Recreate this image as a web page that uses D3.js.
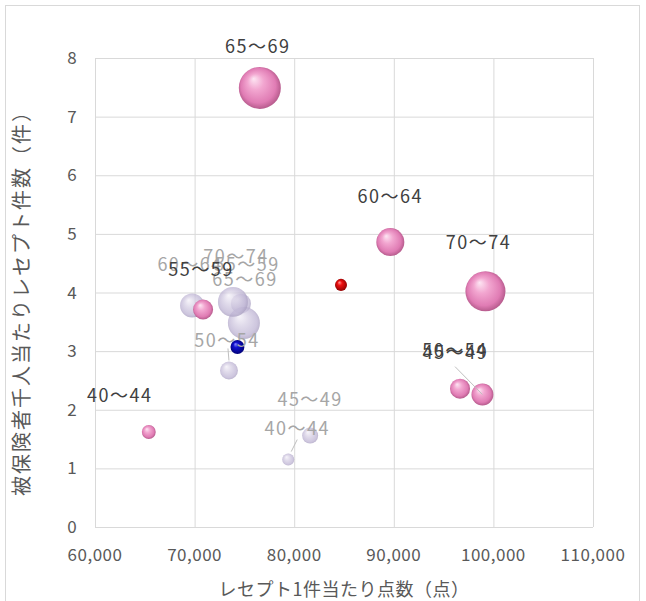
<!DOCTYPE html>
<html>
<head>
<meta charset="utf-8">
<script src="https://cdn.jsdelivr.net/npm/d3@7"></script>
<style>
  body { margin: 0; background: #fff; }
  text { font-family: "Noto Sans CJK JP", "Noto Sans", sans-serif; }
</style>
</head>
<body>
<script>
// age groups
const ages = ['40〜44', '45〜49', '50〜54', '55〜59', '60〜64', '65〜69', '70〜74']

// current series (pink)
const curPoints = [65400, 98900, 96650, 70850, 89650, 76550, 99200]
const curCount = [1.62, 2.26, 2.36, 3.71, 4.86, 7.49, 4.02]
const curSize = [12, 30, 25, 25, 49, 110, 100]

// comparison series (lavender)
const prevPoints = [79400, 81600, 73450, 74650, 69750, 74950, 73850]
const prevCount = [1.15, 1.56, 2.67, 3.81, 3.78, 3.48, 3.84]
const prevSize = [9, 16, 20, 25, 36, 64, 56]

// reference dots
const refPoints = [84700, 74300]
const refCount = [4.13, 3.07]
const refSize = [9, 12]

const xTicks = [60000, 70000, 80000, 90000, 100000, 110000]
const yTicks = [0, 1, 2, 3, 4, 5, 6, 7, 8]

// label nudges (px, relative to bubble centre)
const curLabelNudge = [[-29, -36], [-27, -42], [-5, -38], [-2, -40], [0, -45], [-2, -41], [-7, -48]]
const prevLabelNudge = [[9, -31], [0, -36], [-2, -29], [6, -39], [-2, -40], [1, -43], [3, -45]]

const W = 646, H = 601
const svg = d3.select('body').append('svg').attr('width', W).attr('height', H)

// chart border
svg.append('rect').attr('x', 5.5).attr('y', 5.5).attr('width', 634).attr('height', 600)
  .attr('fill', 'none').attr('stroke', '#d9d9d9')

const x = d3.scaleLinear().domain([60000, 110000]).range([95, 593])
const y = d3.scaleLinear().domain([0, 8]).range([527, 58])
const r = d3.scaleSqrt().domain([0, 110]).range([0, 21])

// gridlines
svg.append('g').selectAll('line').data(xTicks).join('line')
  .attr('x1', d => x(d) + 0.5).attr('x2', d => x(d) + 0.5)
  .attr('y1', y(8)).attr('y2', y(0))
  .attr('stroke', '#d9d9d9')
svg.append('g').selectAll('line').data(yTicks).join('line')
  .attr('x1', x(60000)).attr('x2', x(110000))
  .attr('y1', d => y(d) + 0.5).attr('y2', d => y(d) + 0.5)
  .attr('stroke', '#d9d9d9')

// tick labels
svg.append('g').selectAll('text').data(xTicks).join('text')
  .attr('x', d => x(d)).attr('y', 561)
  .attr('text-anchor', 'middle').attr('font-size', 17).attr('letter-spacing', 0.5).attr('fill', '#595959')
  .text(d3.format(','))
svg.append('g').selectAll('text').data(yTicks).join('text')
  .attr('x', 72).attr('y', d => y(d) + 6)
  .attr('text-anchor', 'middle').attr('font-size', 17).attr('fill', '#595959')
  .text(d => d)

// axis titles
svg.append('text').attr('x', 344).attr('y', 596)
  .attr('text-anchor', 'middle').attr('font-size', 18).attr('letter-spacing', 0.5).attr('fill', '#595959')
  .text('レセプト1件当たり点数（点）')
svg.append('text').attr('transform', 'translate(29,298) rotate(-90)')
  .attr('text-anchor', 'middle').attr('font-size', 20).attr('letter-spacing', 2).attr('fill', '#595959')
  .text('被保険者千人当たりレセプト件数（件）')

// gradients
const defs = svg.append('defs')
function sphere(id, stops) {
  const g = defs.append('radialGradient').attr('id', id)
    .attr('cx', '50%').attr('cy', '50%').attr('r', '55%')
    .attr('fx', '35%').attr('fy', '28%')
  stops.forEach(s => g.append('stop').attr('offset', s[0]).attr('stop-color', s[1]))
}
sphere('pink', [['0%', '#fde6f3'], ['35%', '#f2a6d0'], ['75%', '#e07cb4'], ['100%', '#a8507f']])
sphere('lav', [['0%', '#f4f1f8'], ['40%', '#d6cfe4'], ['80%', '#bdb3d3'], ['100%', '#9d93b6']])
sphere('red', [['0%', '#ff9a9a'], ['35%', '#f01010'], ['100%', '#8a0000']])
sphere('blue', [['0%', '#8a8aff'], ['35%', '#1010d0'], ['100%', '#000070']])

const prev = ages.map((a, i) => ({ a, px: prevPoints[i], cy: prevCount[i], s: prevSize[i], n: prevLabelNudge[i] }))
const cur = ages.map((a, i) => ({ a, px: curPoints[i], cy: curCount[i], s: curSize[i], n: curLabelNudge[i] }))

// lavender bubbles
svg.append('g').selectAll('circle').data(prev).join('circle')
  .attr('cx', d => x(d.px)).attr('cy', d => y(d.cy)).attr('r', d => r(d.s))
  .attr('fill', 'url(#lav)').attr('opacity', 0.75)

// pink bubbles
svg.append('g').selectAll('circle').data(cur).join('circle')
  .attr('cx', d => x(d.px)).attr('cy', d => y(d.cy)).attr('r', d => r(d.s))
  .attr('fill', 'url(#pink)')

// reference dots
svg.append('g').selectAll('circle').data(refPoints).join('circle')
  .attr('cx', d => x(d)).attr('cy', (d, i) => y(refCount[i])).attr('r', (d, i) => r(refSize[i]))
  .attr('fill', (d, i) => i === 0 ? 'url(#red)' : 'url(#blue)')

// leader lines
const leaders = [
  [x(96650) - 5, y(2.36) - 22, x(98900), y(2.26)],
  [x(79400) + 9, y(1.15) - 20, x(79400) + 3, y(1.15) - 8],
  [x(73450) - 1, y(2.67) - 22, x(73450), y(2.67) - 10]
]
svg.append('g').selectAll('line').data(leaders).join('line')
  .attr('x1', d => d[0]).attr('y1', d => d[1]).attr('x2', d => d[2]).attr('y2', d => d[3])
  .attr('stroke', '#bfbfbf')

// labels
svg.append('g').selectAll('text').data(prev).join('text')
  .attr('x', d => x(d.px) + d.n[0]).attr('y', d => y(d.cy) + d.n[1] + 6)
  .attr('text-anchor', 'middle').attr('font-size', 18).attr('letter-spacing', 1.5).attr('fill', '#a6a6a6')
  .text(d => d.a)
svg.append('g').selectAll('text').data(cur).join('text')
  .attr('x', d => x(d.px) + d.n[0]).attr('y', d => y(d.cy) + d.n[1] + 6)
  .attr('text-anchor', 'middle').attr('font-size', 18).attr('letter-spacing', 1.5).attr('fill', '#404040')
  .text(d => d.a)
</script>
</body>
</html>
